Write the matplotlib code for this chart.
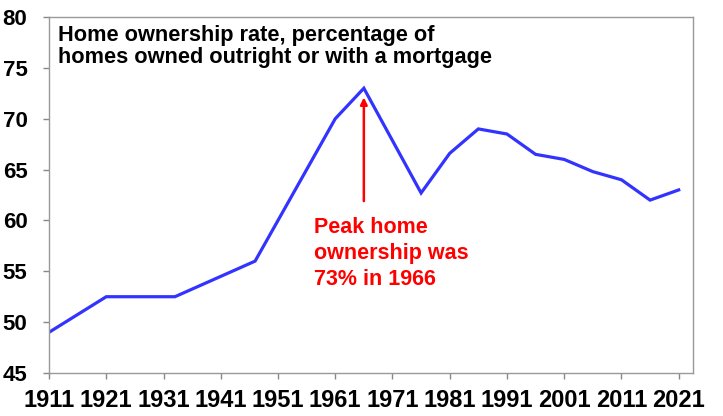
import matplotlib
matplotlib.use('Agg')
import matplotlib.pyplot as plt

plt.rcParams['font.family'] = ['Liberation Sans', 'DejaVu Sans']

# census years and home ownership rate (%)
years = [1911, 1921, 1933, 1947, 1961, 1966, 1976, 1981, 1986, 1991,
         1996, 2001, 2006, 2011, 2016, 2021]
rate = [49.0, 52.5, 52.5, 56.0, 70.0, 73.0, 62.7, 66.6, 69.0, 68.5,
        66.5, 66.0, 64.8, 64.0, 62.0, 63.0]

x_ticks = list(range(1911, 2022, 10))
y_ticks = list(range(45, 81, 5))

title = 'Home ownership rate, percentage of\nhomes owned outright or with a mortgage'
note = 'Peak home\nownership was\n73% in 1966'

fig = plt.figure(figsize=(7.23, 4.16), dpi=100)
ax = fig.add_axes([0.0678, 0.1034, 0.8907, 0.8556])

ax.plot(years, rate, color='#3333FF', lw=2.3, solid_joinstyle='miter')

ax.set_xlim(1911, 2023.5)
ax.set_ylim(45, 80)
ax.set_xticks(x_ticks)
ax.set_yticks(y_ticks)
ax.tick_params(axis='both', length=4.5, color='#888888', width=1)
ax.tick_params(axis='x', labelsize=17, pad=7)
ax.tick_params(axis='y', labelsize=16, pad=11)
for lab in ax.get_xticklabels() + ax.get_yticklabels():
    lab.set_fontweight('bold')
for sp in ax.spines.values():
    sp.set_color('#999999')
    sp.set_linewidth(1)

ax.text(0.0135, 0.978, title, transform=ax.transAxes, ha='left', va='top',
        fontsize=15.7, fontweight='bold', color='black', linespacing=1.05)

# peak annotation
ax.annotate('', xy=(1966, 72.1), xytext=(1966, 61.9),
            arrowprops=dict(arrowstyle='-|>', color='#FF0000', lw=1.8,
                            mutation_scale=10, shrinkA=0, shrinkB=0))
ax.text(1957.3, 60.3, note, ha='left', va='top', fontsize=15.5,
        fontweight='bold', color='#FF0000', linespacing=1.3)

plt.savefig('out.png', dpi=100)
plt.close()
